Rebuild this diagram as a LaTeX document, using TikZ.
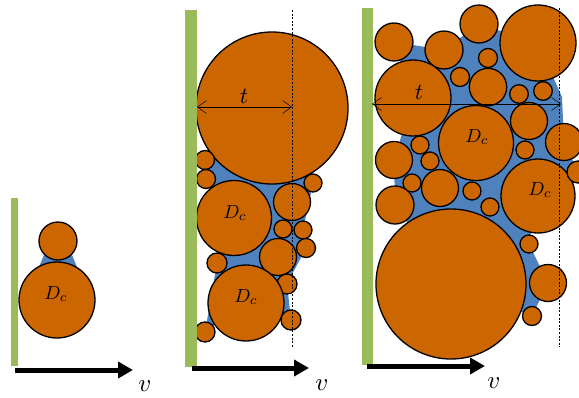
\documentclass[tikz,border=0pt]{standalone}
\usepackage{graphicx}
\usetikzlibrary{arrows.meta}
\definecolor{grain}{RGB}{204,102,0}
\definecolor{binder}{RGB}{79,129,189}
\definecolor{wallgreen}{RGB}{155,187,89}
\newcommand{\mydc}{\scalebox{1.9}{$D_c$}}
\newcommand{\myt}{\scalebox{2.3}{$t$}}
\newcommand{\myv}{\scalebox{2.5}{$v$}}
\tikzset{
  grainc/.style={fill=grain,draw=black,line width=1.3pt},
  bindfill/.style={fill=binder,draw=none},
  wallbar/.style={fill=wallgreen,draw=none},
  velarrow/.style={line width=5pt,-{Triangle[length=15pt,width=16pt]}},
  guide/.style={line width=0.6pt,dash pattern=on 2pt off 1.6pt},
  tarrow/.style={line width=0.6pt,{Straight Barb[length=9pt,width=13pt,line width=0.5pt]}-{Straight Barb[length=9pt,width=13pt,line width=0.5pt]}},
  dlabel/.style={inner sep=0pt},
  tlabel/.style={inner sep=0pt},
  vlabel/.style={inner sep=0pt}
}
\begin{document}
\begin{tikzpicture}[x=1pt,y=-1pt]
\useasboundingbox (0,0) rectangle (579,397);
% ================= panel 1 =================
\fill[bindfill] (46,250) -- (70,250) -- (77,267) -- (39,267) -- cycle;
\draw[grainc] (58,241) circle (19);
\draw[grainc] (57,300) circle (38);
\fill[wallbar] (11,198) rectangle (18,366);
\coordinate (a1s) at (15,370);
\coordinate (a1e) at (133,370);
\draw[velarrow] (a1s) -- (a1e);
\node[dlabel] (dc1) at (56,294) {\mydc};
\node[vlabel] (v1) at (145,386) {\myv};
% ================= panel 2 =================
\fill[bindfill] (205,160) -- (272,108) -- (313,183) -- (303,230) -- (306,248)
  -- (287,284) -- (291,320) -- (246,303) -- (205,332) -- (217,263)
  -- (234,218) -- (206,179) -- cycle;
\foreach \x/\y/\r in {272/108/76, 205/160/9.5, 206/179/9.5, 313/183/9,
  234/218/37.5, 292/202/18.5, 283/229/9, 303/230/9, 306/248/9.5,
  278/257/18.5, 217/263/10, 287/284/10, 246/303/38, 291/320/10, 205/332/10}
  \draw[grainc] (\x,\y) circle (\r);
\fill[wallbar] (185,10) rectangle (197,367);
\coordinate (g2t) at (292,10);
\coordinate (g2b) at (292,348);
\draw[guide] (g2t) -- (g2b);
\coordinate (t2l) at (197,107);
\coordinate (t2r) at (292,107);
\draw[tarrow] (t2l) -- (t2r);
\node[tlabel] (t2) at (244,96) {\myt};
\node[dlabel] (dc2) at (235,213) {\mydc};
\node[dlabel] (dc3) at (246,297) {\mydc};
\coordinate (a2s) at (192,368);
\coordinate (a2e) at (309,368);
\draw[velarrow] (a2s) -- (a2e);
\node[vlabel] (v2) at (322,385) {\myv};
% ================= panel 3 =================
\fill[bindfill] (394,42) -- (444,50) -- (479,24) -- (538,43) -- (562,97)
  -- (564,142) -- (578,172) -- (538,196) -- (529,244) -- (548,283)
  -- (532,316) -- (451,284) -- (395,205) -- (394,160) -- (413,98) -- cycle;
\foreach \x/\y/\r in {394/42/19, 479/24/19, 538/43/38, 444/50/19, 488/58/9.5,
  460/77/9.5, 413/98/38, 488/87/18.7, 519/94/9.3, 543/91/9.3, 476/143/37.5,
  529/121/18.5, 564/142/18.5, 420/145/9, 430/161/9, 394/160/18.5, 525/150/9,
  538/196/37, 440/188/18.5, 412/183/9, 472/191/9, 395/205/19, 490/207/9,
  451/284/75, 529/244/9, 548/283/18.5, 532/316/9.5, 578/172/11}
  \draw[grainc] (\x,\y) circle (\r);
\fill[wallbar] (362,8) rectangle (373,365);
\coordinate (g3t) at (559,8);
\coordinate (g3b) at (559,347);
\draw[guide] (g3t) -- (g3b);
\coordinate (t3l) at (372,104);
\coordinate (t3r) at (561,104);
\draw[tarrow] (t3l) -- (t3r);
\node[tlabel] (t3) at (419,92) {\myt};
\node[dlabel] (dc4) at (477,137) {\mydc};
\node[dlabel] (dc5) at (540,190) {\mydc};
\coordinate (a3s) at (367,366);
\coordinate (a3e) at (485,366);
\draw[velarrow] (a3s) -- (a3e);
\node[vlabel] (v3) at (494,383) {\myv};
\end{tikzpicture}
\end{document}
